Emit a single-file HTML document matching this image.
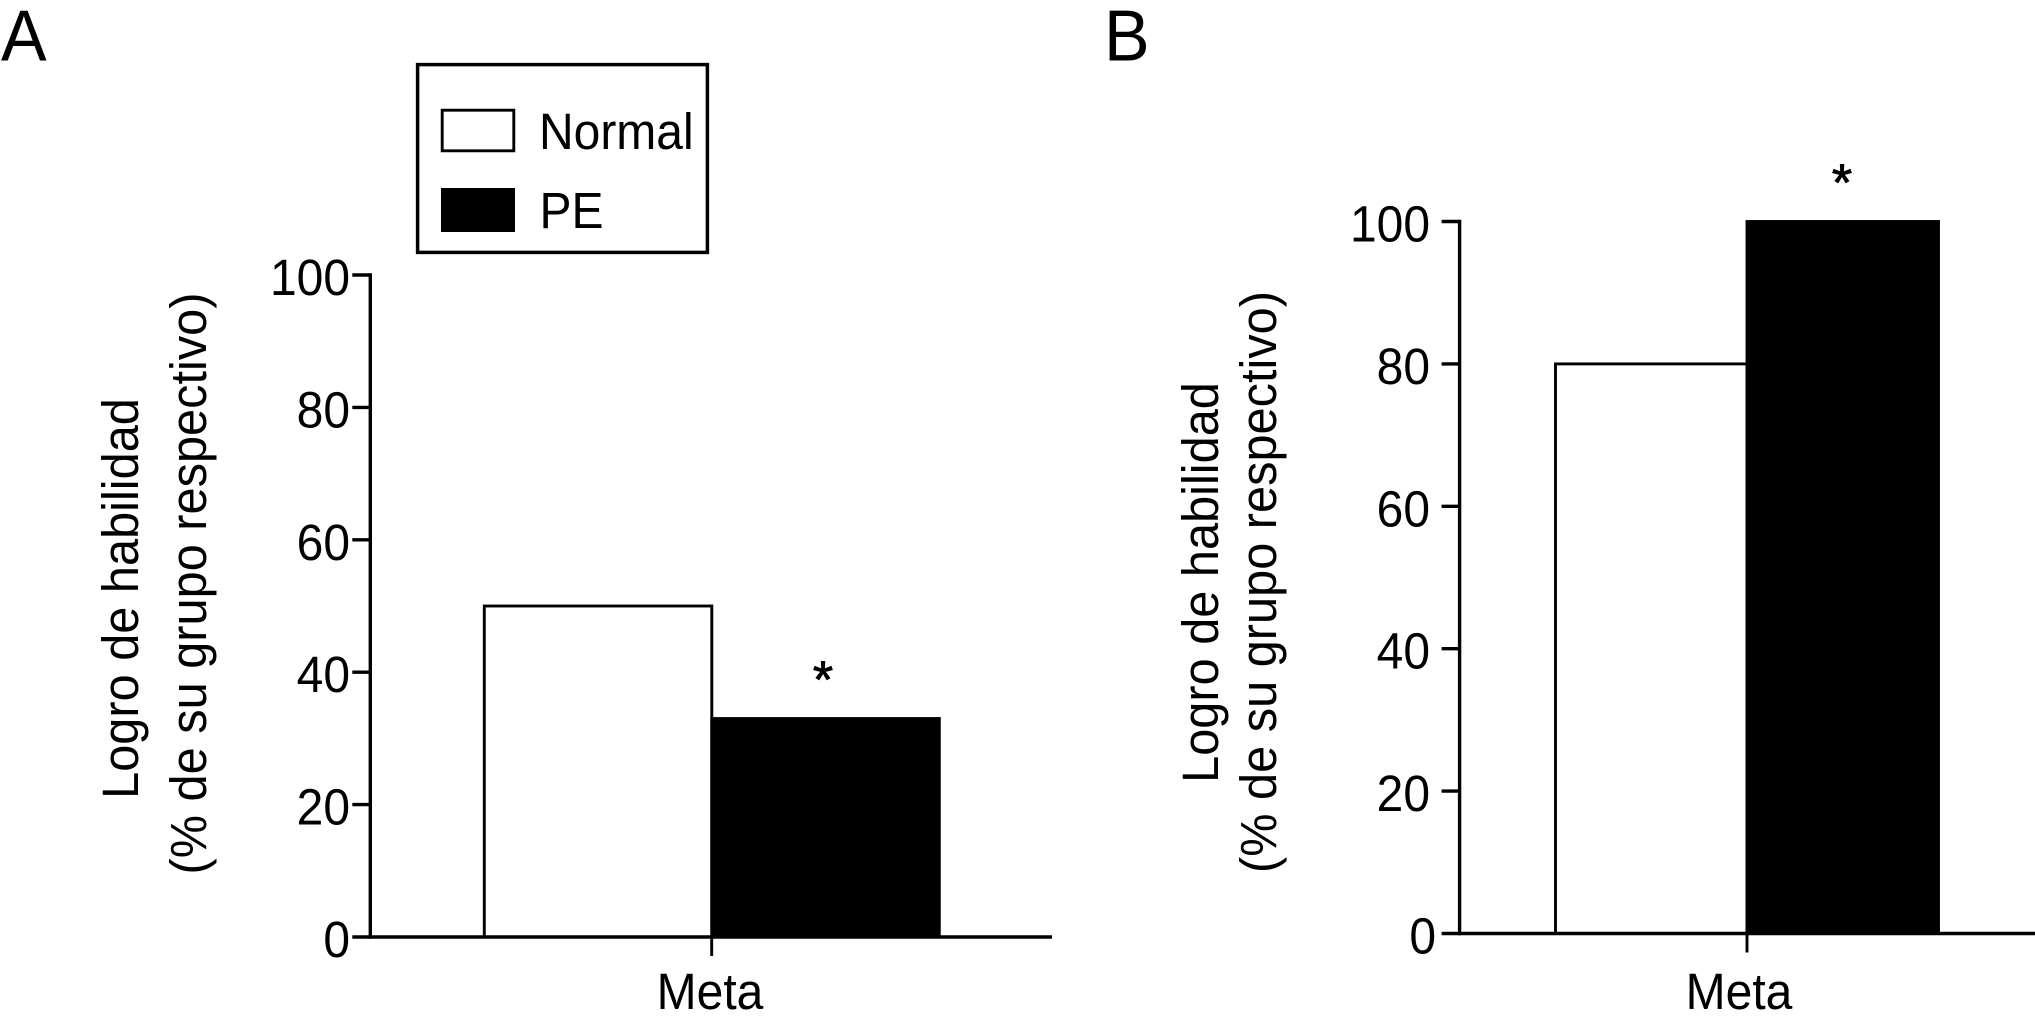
<!DOCTYPE html>
<html lang="es">
<head>
<meta charset="utf-8">
<title>Logro de habilidad</title>
<style>
html,body{margin:0;padding:0;background:#fff;width:2035px;height:1020px;overflow:hidden}
svg{display:block}
text{font-family:"Liberation Sans",Arial,Helvetica,sans-serif;fill:#000}
</style>
</head>
<body>
<svg id="chart" xmlns="http://www.w3.org/2000/svg" width="2035" height="1020" viewBox="0 0 2035 1020">
  <rect width="2035" height="1020" fill="#fff"/>
  <text transform="translate(1 60.5) scale(.95 1)" font-size="72">A</text>
  <text transform="translate(1104 60.5) scale(.95 1)" font-size="72">B</text>

  <g>
    <rect x="417.6" y="64.6" width="289.8" height="187.8" fill="#fff" stroke="#000" stroke-width="3.5"/>
    <rect x="442.2" y="110.2" width="71.6" height="40.6" fill="#fff" stroke="#000" stroke-width="2.9"/>
    <text transform="translate(539 149) scale(.941 1)" font-size="51">Normal</text>
    <rect x="441" y="188" width="74" height="44" fill="#000"/>
    <text transform="translate(539.5 228) scale(.941 1)" font-size="51">PE</text>
  </g>

  <g>
    <text transform="translate(138 598.5) rotate(-90) scale(.955 1)" font-size="51" text-anchor="middle">Logro de habilidad</text>
    <text transform="translate(206 583.5) rotate(-90) scale(.955 1)" font-size="51" text-anchor="middle">(% de su grupo respectivo)</text>
  </g>
  <g>
    <text transform="translate(1218 582.5) rotate(-90) scale(.955 1)" font-size="51" text-anchor="middle">Logro de habilidad</text>
    <text transform="translate(1276 582) rotate(-90) scale(.955 1)" font-size="51" text-anchor="middle">(% de su grupo respectivo)</text>
  </g>

  <g id="panel-a"></g>
  <g id="panel-b"></g>
</svg>
<script>
const categories = ['Meta'];
const seriesNames = ['normal', 'pe'];
const panelAValues = [50, 33];
const panelBValues = [80, 100];
const tickValues = [0, 20, 40, 60, 80, 100];
const significanceMarks = ['*'];

const NS = 'http://www.w3.org/2000/svg';
function make(tag, parent) {
  const el = document.createElementNS(NS, tag);
  parent.appendChild(el);
  return el;
}
function setAll(el, props) {
  Object.keys(props).forEach(function (k) { el.setAttribute(k, props[k]); });
}
function placeText(el, x, y, size, anchor) {
  setAll(el, { transform: 'translate(' + x + ' ' + y + ') scale(.941 1)', 'font-size': size, 'text-anchor': anchor });
}

function drawPanel(id, values, geo) {
  const root = document.getElementById(id);
  const yScale = function (v) { return geo.y0 - (v / 100) * (geo.y0 - geo.y100); };
  const xScale = function (i) { return geo.barStart + i * geo.barWidth; };

  values.forEach(function (v, i) {
    const bar = make('rect', root);
    setAll(bar, {
      x: xScale(i), y: yScale(v), width: geo.barWidth, height: geo.y0 - yScale(v),
      fill: i === 0 ? '#fff' : '#000', stroke: '#000', 'stroke-width': 2.9
    });
    
    
  });

  const yAxis = make('line', root);
  setAll(yAxis, { x1: geo.axisX, x2: geo.axisX, y1: geo.y100 - 1.7, y2: geo.y0 + 1.7, stroke: '#000', 'stroke-width': 3.4 });
  
  

  const xAxis = make('line', root);
  setAll(xAxis, { x1: geo.axisX, x2: geo.xEnd, y1: geo.y0, y2: geo.y0, stroke: '#000', 'stroke-width': 3.4 });
  
  

  tickValues.forEach(function (t) {
    const tick = make('line', root);
    setAll(tick, { x1: geo.axisX - 18, x2: geo.axisX, y1: yScale(t), y2: yScale(t), stroke: '#000', 'stroke-width': 3.4 });
    
    

    const label = make('text', root);
    placeText(label, geo.labelX + (t === 0 ? geo.zeroDx : 0), yScale(t) + 20, 51, 'end');
    label.textContent = String(t);
    
    
  });

  const xTick = make('line', root);
  setAll(xTick, { x1: geo.tickX, x2: geo.tickX, y1: geo.y0, y2: geo.y0 + 19, stroke: '#000', 'stroke-width': 2.9 });
  
  

  const cat = make('text', root);
  placeText(cat, geo.catX, 1009, 51, 'middle');
  cat.textContent = categories[0];
  
  

  const star = make('text', root);
  setAll(star, { x: geo.starX, y: yScale(values[1]) - geo.starGap, 'font-size': 52, 'text-anchor': 'middle', stroke: '#000', 'stroke-width': 0.9 });
  star.textContent = significanceMarks[0];
  
  
}

drawPanel('panel-a', panelAValues, {
  y0: 937, y100: 275, axisX: 370.3, xEnd: 1052, barStart: 484.3, barWidth: 227.5,
  labelX: 350, zeroDx: 0, tickX: 711.7, catX: 710, starX: 823, starGap: 21
});
drawPanel('panel-b', panelBValues, {
  y0: 933.5, y100: 221.5, axisX: 1459.6, xEnd: 2035, barStart: 1555.5, barWidth: 191.5,
  labelX: 1430, zeroDx: 6, tickX: 1747, catX: 1739, starX: 1842, starGap: 21
});
</script>
</body>
</html>
